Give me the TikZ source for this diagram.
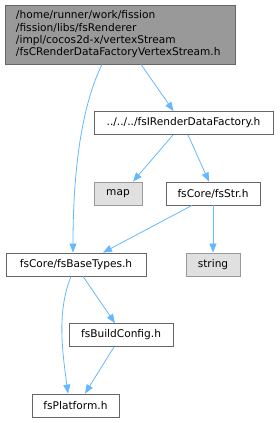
\documentclass[tikz,border=0pt]{standalone}
\usepackage{fontspec}
\setmainfont{DejaVu Sans}
\usetikzlibrary{arrows.meta}
\definecolor{edgeblue}{HTML}{63B8FF}
\definecolor{boxline}{HTML}{666666}
\definecolor{rootfill}{HTML}{999999}
\definecolor{sysfill}{HTML}{E0E0E0}
\definecolor{sysline}{HTML}{999999}

\begin{document}
\begin{tikzpicture}[x=1pt, y=1pt, >={Triangle[length=9pt,width=7pt]},
    file/.style={draw=boxline, line width=0.8pt, fill=white, minimum height=23pt,
        inner xsep=0pt, font=\fontsize{10.6}{12.3}\selectfont},
    sys/.style={file, draw=sysline, fill=sysfill},
    dep/.style={->, edgeblue, line width=0.8pt}]
    \useasboundingbox (0,0) rectangle (279,423);
    % the header itself
    \node[file, fill=rootfill, text width=208pt, inner xsep=11pt, minimum height=59pt,
        align=left] (root) at (120,388.5)
        {/home/runner/work/fission\\/fission/libs/fsRenderer\\/impl/cocos2d-x/vertexStream\\/fsCRenderDataFactoryVertexStream.h};
    \node[file, minimum width=179pt] (factory) at (183.5,300) {../../../fsIRenderDataFactory.h};
    \node[sys, minimum width=48pt] (map) at (118,229.5) {map};
    \node[file, minimum width=94pt] (str) at (213,229.5) {fsCore/fsStr.h};
    \node[file, minimum width=140pt] (base) at (76,158.5) {fsCore/fsBaseTypes.h};
    \node[sys, minimum width=54pt] (string) at (213,158.5) {string};
    \node[file, minimum width=104pt] (config) at (121,88) {fsBuildConfig.h};
    \node[file, minimum width=87pt] (platform) at (75.5,17.5) {fsPlatform.h};
    % includes
    \draw[dep] ([xshift=21pt]root.south) -- ([xshift=-10pt]factory.north);
    \draw[dep] ([xshift=-18pt]root.south) .. controls +(-22,-45) and +(0,75) .. ([xshift=-3pt]base.north);
    \draw[dep] ([xshift=-10.5pt]factory.south) -- ([xshift=15pt]map.north);
    \draw[dep] ([xshift=4.5pt]factory.south) -- ([xshift=-4pt]str.north);
    \draw[dep] ([xshift=-21pt]str.south) -- ([xshift=27pt]base.north);
    \draw[dep] (str.south) -- (string.north);
    \draw[dep] ([xshift=7pt]base.south) -- ([xshift=-6pt]config.north);
    \draw[dep] ([xshift=-5pt]base.south) .. controls +(-14,-35) and +(-6,45) .. ([xshift=-7.5pt]platform.north);
    \draw[dep] ([xshift=-7pt]config.south) -- ([xshift=9.5pt]platform.north);
\end{tikzpicture}
\end{document}
